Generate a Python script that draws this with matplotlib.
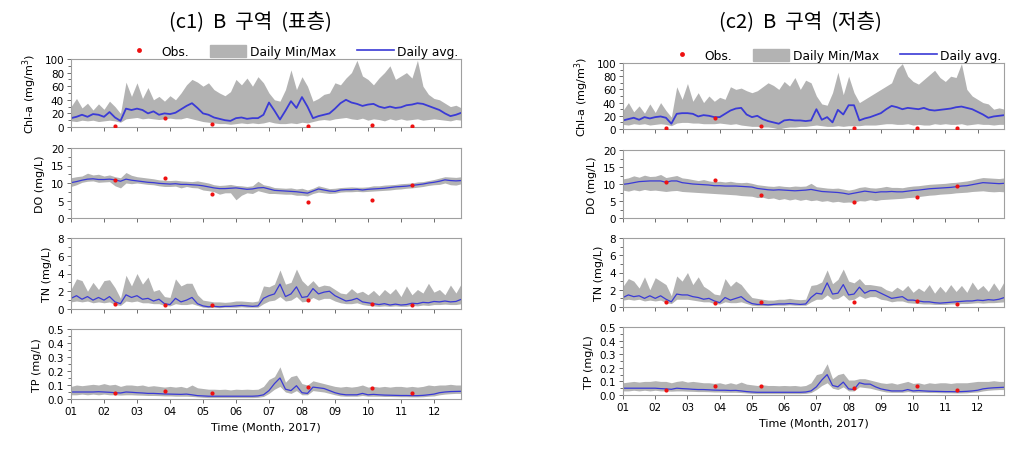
import numpy as np
import matplotlib.pyplot as plt
from matplotlib.patches import Patch
from matplotlib.lines import Line2D
from matplotlib.ticker import MultipleLocator

# time axis: every 5 days, in month units (01 = Jan 1)
t = 1 + np.arange(72) / 6
obs_t = [2.32, 3.85, 5.28, 8.17, 10.13, 11.35]
month_labels = ['01', '02', '03', '04', '05', '06', '07', '08', '09', '10', '11', '12']

# ---------------- (c1) surface ----------------
chl1_avg = [13, 15, 18, 15, 19, 18, 15, 22, 14, 9, 27, 25,
            27, 25, 20, 23, 18, 20, 19, 21, 26, 31, 35, 28,
            20, 18, 14, 12, 10, 9, 13, 14, 12, 13, 13, 18,
            36, 24, 11, 24, 38, 28, 44, 30, 13, 16, 18, 20,
            27, 35, 40, 36, 34, 31, 33, 34, 30, 28, 30, 28,
            29, 32, 33, 35, 34, 31, 28, 25, 20, 16, 18, 21]
chl1_max = [30, 42, 28, 35, 25, 34, 26, 38, 30, 20, 66, 45,
            65, 42, 58, 40, 45, 38, 46, 40, 50, 62, 70, 66,
            60, 65, 55, 50, 46, 52, 70, 62, 72, 60, 74, 65,
            50, 40, 38, 55, 84, 55, 74, 60, 38, 42, 48, 50,
            65, 62, 72, 80, 98, 75, 70, 62, 72, 80, 90, 70,
            75, 80, 72, 98, 60, 48, 42, 40, 35, 30, 32, 28]
chl1_min = [9, 8, 10, 9, 10, 8, 9, 10, 9, 7, 12, 13,
            14, 12, 13, 12, 11, 12, 13, 12, 12, 14, 12, 10,
            8, 7, 6, 5, 5, 4, 5, 6, 5, 6, 5, 6,
            8, 6, 5, 5, 6, 5, 7, 6, 8, 10, 11, 10,
            12, 13, 14, 12, 11, 13, 10, 12, 11, 9, 12, 10,
            12, 10, 11, 12, 10, 11, 12, 11, 10, 9, 11, 10]
chl1_obs = [2, 13, 5, 1.5, 2.5, 1.5]

do1_avg = [10.1, 10.4, 10.8, 11.1, 11.2, 11.0, 11.0, 11.1, 10.9, 10.5, 11.1, 10.8,
           10.6, 10.4, 10.2, 10.1, 9.9, 9.8, 9.7, 9.8, 9.6, 9.6, 9.5, 9.4,
           9.2, 8.9, 8.6, 8.4, 8.4, 8.5, 8.6, 8.4, 8.2, 8.3, 8.6, 8.7,
           8.3, 7.9, 7.8, 7.7, 7.6, 7.5, 7.3, 7.1, 7.7, 8.3, 8.0, 7.7,
           7.6, 8.0, 8.1, 8.1, 8.2, 8.0, 8.2, 8.3, 8.4, 8.5, 8.7, 8.9,
           9.0, 9.1, 9.3, 9.5, 9.7, 10.0, 10.2, 10.5, 10.9, 10.7, 10.6, 10.7]
do1_max = [11.5, 11.8, 12.0, 12.8, 12.3, 12.5, 12.0, 12.3, 11.8, 11.5, 13.0, 12.2,
           11.8, 11.6, 11.4, 11.2, 10.9, 10.8, 10.7, 10.8, 10.6, 10.5, 10.4, 10.6,
           10.3, 10.0, 9.5, 9.3, 9.4, 9.6, 9.3, 9.2, 9.0, 9.2, 10.5, 9.5,
           9.2, 8.7, 8.6, 8.5, 8.6, 8.3, 8.5, 8.0, 8.5, 9.2, 8.8, 8.4,
           8.5, 8.7, 8.8, 8.9, 8.8, 8.8, 8.9, 9.2, 9.2, 9.4, 9.5, 9.6,
           9.8, 9.9, 10.0, 10.3, 10.4, 10.7, 11.0, 11.4, 11.8, 11.7, 11.6, 11.8]
do1_min = [9.0, 9.5, 10.2, 10.5, 10.6, 10.2, 10.3, 10.4, 9.2, 8.6, 10.0, 9.8,
           10.0, 9.8, 9.6, 9.5, 9.2, 9.0, 9.0, 9.1, 8.6, 9.0, 8.7, 8.6,
           8.0, 7.8, 7.5, 6.8, 7.2, 7.2, 5.2, 6.5, 7.2, 7.0, 7.8, 7.4,
           7.0, 7.0, 6.9, 6.8, 6.8, 6.5, 6.5, 6.3, 7.0, 7.4, 7.2, 7.0,
           7.1, 7.4, 7.5, 7.5, 7.6, 7.5, 7.6, 7.7, 7.8, 7.9, 8.0, 8.2,
           8.3, 8.5, 8.6, 8.8, 9.0, 9.3, 9.5, 9.6, 10.0, 9.5, 9.4, 9.8]
do1_obs = [10.8, 11.5, 6.8, 4.7, 5.1, 9.3]

tn1_avg = [1.2, 1.5, 1.1, 1.4, 1.0, 1.3, 1.0, 1.4, 0.8, 0.6, 1.6, 1.3,
           1.5, 1.1, 1.2, 0.9, 1.1, 0.6, 0.5, 1.2, 0.8, 1.0, 1.3, 0.6,
           0.35, 0.25, 0.3, 0.25, 0.3, 0.3, 0.35, 0.4, 0.35, 0.3, 0.35, 1.2,
           1.5, 1.7, 2.8, 1.4, 1.7, 2.5, 1.3, 1.4, 2.3, 1.7, 1.9, 2.0,
           1.5, 1.2, 0.9, 1.0, 1.2, 0.8, 0.7, 0.6, 0.5, 0.6, 0.45, 0.55,
           0.45, 0.5, 0.65, 0.6, 0.75, 0.7, 0.85, 0.8, 0.9, 0.8, 0.85, 1.1]
tn1_max = [2.2, 3.4, 3.2, 2.0, 3.0, 2.2, 3.2, 3.3, 2.4, 1.2, 3.8, 2.6,
           4.0, 2.8, 3.6, 2.0, 2.2, 1.4, 1.3, 3.4, 2.6, 2.9, 2.9, 1.6,
           1.0, 0.9, 0.8, 0.8, 0.75, 0.8, 0.9, 0.9, 0.85, 0.8, 0.9, 2.6,
           2.5, 2.8, 4.4, 2.8, 3.0, 4.5, 3.2, 2.6, 3.2, 2.5, 2.7, 2.6,
           2.2, 1.8, 1.7, 2.3, 1.8, 2.0, 1.6, 2.1, 1.5, 2.2, 1.7, 2.3,
           1.4, 2.6, 1.6, 2.2, 1.8, 2.9, 1.9, 2.2, 1.6, 2.7, 1.8, 2.9]
tn1_min = [0.8, 0.9, 0.8, 0.9, 0.7, 0.8, 0.7, 0.8, 0.5, 0.4, 0.9, 0.8,
           0.9, 0.7, 0.7, 0.6, 0.6, 0.4, 0.35, 0.6, 0.5, 0.5, 0.6, 0.4,
           0.2, 0.15, 0.2, 0.15, 0.2, 0.2, 0.2, 0.25, 0.2, 0.2, 0.2, 0.6,
           0.9, 1.0, 1.4, 0.9, 1.0, 1.4, 0.8, 0.9, 1.3, 1.0, 1.2, 1.2,
           0.9, 0.7, 0.6, 0.6, 0.7, 0.5, 0.4, 0.35, 0.3, 0.35, 0.3, 0.35,
           0.3, 0.3, 0.4, 0.35, 0.45, 0.4, 0.5, 0.5, 0.55, 0.5, 0.5, 0.6]
tn1_obs = [0.56, 0.49, 0.49, 0.98, 0.56, 0.45]

tp1_avg = [0.05, 0.05, 0.05, 0.05, 0.05, 0.052, 0.05, 0.048, 0.045, 0.043, 0.05, 0.048,
           0.045, 0.043, 0.04, 0.04, 0.038, 0.036, 0.035, 0.034, 0.033, 0.035, 0.03, 0.024,
           0.022, 0.02, 0.02, 0.02, 0.02, 0.02, 0.02, 0.02, 0.02, 0.02, 0.022, 0.03,
           0.06, 0.11, 0.15, 0.07, 0.06, 0.095, 0.045, 0.04, 0.085, 0.08, 0.075, 0.06,
           0.045, 0.035, 0.03, 0.03, 0.03, 0.04, 0.03, 0.033, 0.03, 0.028, 0.027, 0.026,
           0.025, 0.025, 0.024, 0.024, 0.026, 0.03, 0.035, 0.045, 0.05, 0.053, 0.054, 0.055]
tp1_max = [0.09, 0.1, 0.095, 0.1, 0.105, 0.1, 0.11, 0.1, 0.105, 0.09, 0.1, 0.1,
           0.095, 0.1, 0.09, 0.095, 0.09, 0.085, 0.09, 0.085, 0.09, 0.08, 0.1, 0.08,
           0.075, 0.07, 0.07, 0.068, 0.07, 0.065, 0.07, 0.068, 0.07, 0.068, 0.07, 0.09,
           0.14, 0.16, 0.23, 0.12, 0.16, 0.17, 0.11, 0.1, 0.13, 0.12, 0.11, 0.1,
           0.09, 0.085, 0.09, 0.085, 0.09, 0.1, 0.085, 0.09, 0.085, 0.09, 0.085, 0.09,
           0.09, 0.085, 0.09, 0.085, 0.09, 0.1, 0.095, 0.1, 0.1, 0.105, 0.1, 0.1]
tp1_min = [0.03, 0.03, 0.035, 0.03, 0.035, 0.03, 0.035, 0.03, 0.03, 0.028, 0.03, 0.03,
           0.028, 0.027, 0.025, 0.025, 0.024, 0.022, 0.022, 0.02, 0.02, 0.02, 0.018, 0.015,
           0.012, 0.01, 0.01, 0.01, 0.01, 0.01, 0.01, 0.01, 0.01, 0.01, 0.012, 0.018,
           0.04, 0.07, 0.09, 0.05, 0.04, 0.06, 0.03, 0.03, 0.06, 0.055, 0.05, 0.04,
           0.03, 0.022, 0.02, 0.02, 0.02, 0.025, 0.02, 0.02, 0.02, 0.018, 0.018, 0.017,
           0.016, 0.016, 0.015, 0.015, 0.016, 0.02, 0.022, 0.03, 0.035, 0.038, 0.04, 0.04]
tp1_obs = [0.041, 0.055, 0.045, 0.084, 0.079, 0.041]

# ---------------- (c2) bottom ----------------
chl2_avg = [13, 15, 17, 14, 18, 16, 18, 19, 17, 8, 23, 24,
            24, 23, 19, 21, 20, 18, 18, 23, 28, 31, 32, 22,
            18, 20, 15, 12, 10, 8, 13, 14, 13, 13, 12, 13,
            30, 14, 18, 10, 29, 22, 36, 36, 13, 16, 18, 21,
            24, 30, 35, 33, 30, 32, 31, 30, 32, 29, 28, 29,
            30, 31, 33, 34, 32, 30, 26, 22, 17, 19, 20, 21]
chl2_max = [28, 40, 26, 35, 24, 38, 25, 40, 28, 18, 64, 45,
            69, 42, 55, 40, 50, 42, 48, 45, 64, 60, 62, 58,
            55, 58, 64, 70, 66, 60, 72, 65, 78, 60, 74, 70,
            50, 38, 36, 55, 86, 52, 80, 55, 40, 45, 50, 55,
            60, 65, 70, 91, 99, 80, 72, 68, 75, 82, 89, 78,
            72, 80, 78, 99, 60, 50, 45, 40, 38, 30, 32, 30]
chl2_min = [7, 6, 8, 7, 8, 6, 7, 8, 7, 5, 9, 10,
            10, 9, 9, 8, 8, 8, 9, 8, 7, 8, 6, 5,
            4, 4, 3, 3, 2, 0, 2, 3, 3, 4, 4, 5,
            6, 5, 4, 4, 5, 4, 5, 5, 5, 6, 6, 6,
            7, 8, 8, 7, 7, 8, 6, 7, 6, 6, 8, 7,
            8, 7, 7, 8, 6, 7, 8, 7, 7, 6, 7, 7]
chl2_obs = [2, 16, 4, 1, 2, 1]

do2_avg = [9.9, 10.1, 10.4, 10.7, 10.8, 10.9, 10.9, 10.9, 10.5, 10.9, 10.9, 10.4,
           10.2, 10.0, 9.9, 9.8, 9.7, 9.5, 9.5, 9.4, 9.4, 9.4, 9.3, 9.2,
           9.1, 8.7, 8.5, 8.3, 8.2, 8.3, 8.2, 8.1, 8.0, 8.1, 8.2, 8.4,
           8.1, 7.8, 7.7, 7.6, 7.5, 7.3, 7.0, 7.3, 7.6, 7.9, 7.7, 7.5,
           7.7, 7.7, 7.8, 7.7, 7.7, 7.9, 8.1, 8.2, 8.4, 8.6, 8.7, 8.8,
           8.9, 9.0, 9.2, 9.4, 9.5, 9.8, 10.1, 10.4, 10.3, 10.2, 10.1, 10.2]
do2_max = [11.5, 11.8, 12.4, 12.0, 12.6, 12.2, 12.3, 12.8, 11.9, 12.2, 12.5, 11.8,
           11.6, 11.3, 11.0, 11.3, 10.9, 10.7, 10.8, 10.6, 10.8, 10.5, 10.4, 10.5,
           10.2, 9.8, 9.6, 9.4, 9.3, 9.5, 9.3, 9.2, 9.4, 9.3, 9.4, 10.2,
           9.2, 9.0, 8.8, 8.7, 8.8, 8.5, 8.2, 8.5, 9.0, 9.2, 8.9, 8.8,
           9.0, 9.3, 9.0, 9.0, 8.9, 9.2, 9.4, 9.5, 9.7, 9.9, 10.0, 10.1,
           10.2, 10.4, 10.5, 10.7, 10.9, 11.2, 11.6, 11.9, 11.8, 11.7, 11.6, 11.8]
do2_min = [8.2, 7.9, 8.3, 8.0, 8.4, 8.1, 8.2, 8.0, 7.8, 8.0, 8.1, 7.8,
           7.7, 7.6, 7.5, 7.4, 7.3, 7.2, 7.1, 7.0, 6.9, 6.8, 6.6, 6.5,
           6.4, 6.0, 6.1, 5.7, 5.9, 5.4, 5.7, 5.3, 5.6, 5.2, 5.5, 5.1,
           5.3, 4.9, 5.1, 4.7, 4.9, 4.6, 4.7, 4.6, 5.1, 5.0, 5.4, 5.1,
           5.4, 5.5, 5.6, 5.7, 5.8, 6.0, 6.1, 6.3, 6.5, 6.7, 6.8, 7.0,
           7.1, 7.2, 7.4, 7.5, 7.6, 7.8, 7.9, 8.0, 7.8, 7.7, 7.8, 7.7]
do2_obs = [10.7, 11.3, 6.8, 4.7, 6.1, 9.3]

tn2_avg = [1.1, 1.4, 1.2, 1.3, 1.0, 1.3, 1.0, 1.3, 0.9, 0.6, 1.5, 1.4,
           1.4, 1.2, 1.1, 0.9, 1.0, 0.7, 0.5, 1.1, 0.8, 1.0, 1.2, 0.7,
           0.4, 0.3, 0.3, 0.25, 0.3, 0.35, 0.35, 0.4, 0.35, 0.3, 0.35, 1.1,
           1.6, 1.5, 2.8, 1.5, 1.6, 2.6, 1.4, 1.5, 2.3, 1.6, 1.9, 1.9,
           1.6, 1.3, 1.0, 1.1, 1.2, 0.8, 0.8, 0.7, 0.6, 0.6, 0.5, 0.45,
           0.5, 0.55, 0.6, 0.65, 0.7, 0.7, 0.8, 0.75, 0.85, 0.8, 0.9, 1.1]
tn2_max = [2.4, 3.3, 3.0, 2.2, 3.5, 2.0, 3.4, 3.0, 2.6, 1.3, 3.6, 3.0,
           4.0, 2.6, 3.5, 2.4, 2.0, 1.5, 1.4, 3.3, 2.4, 3.0, 2.6, 1.8,
           1.1, 1.0, 0.9, 0.8, 0.8, 0.9, 0.9, 1.0, 0.9, 0.85, 0.9, 2.5,
           2.6, 2.9, 4.3, 2.7, 3.2, 4.4, 3.0, 2.8, 3.3, 2.6, 2.6, 2.5,
           2.4, 2.0, 1.8, 2.3, 1.9, 2.5, 1.7, 2.2, 1.8, 2.6, 1.6, 2.4,
           1.7, 2.6, 1.8, 2.5, 1.7, 2.9, 2.0, 2.5, 1.8, 2.8, 1.9, 3.0]
tn2_min = [0.8, 0.9, 0.8, 0.9, 0.7, 0.8, 0.7, 0.8, 0.5, 0.4, 0.9, 0.9,
           0.9, 0.8, 0.7, 0.6, 0.6, 0.4, 0.35, 0.6, 0.5, 0.5, 0.6, 0.4,
           0.2, 0.15, 0.15, 0.15, 0.2, 0.2, 0.2, 0.25, 0.2, 0.2, 0.2, 0.6,
           0.9, 0.9, 1.4, 0.9, 1.0, 1.4, 0.8, 0.9, 1.3, 1.0, 1.2, 1.2,
           0.9, 0.8, 0.6, 0.7, 0.7, 0.5, 0.45, 0.4, 0.35, 0.35, 0.3, 0.3,
           0.3, 0.35, 0.35, 0.4, 0.4, 0.45, 0.5, 0.45, 0.5, 0.5, 0.55, 0.6]
tn2_obs = [0.54, 0.5, 0.54, 0.54, 0.69, 0.38]

tp2_avg = [0.05, 0.05, 0.05, 0.05, 0.05, 0.05, 0.05, 0.047, 0.045, 0.042, 0.05, 0.047,
           0.045, 0.042, 0.04, 0.04, 0.038, 0.036, 0.035, 0.035, 0.033, 0.034, 0.03, 0.025,
           0.022, 0.02, 0.02, 0.02, 0.02, 0.02, 0.02, 0.02, 0.02, 0.02, 0.022, 0.03,
           0.06, 0.11, 0.15, 0.07, 0.06, 0.095, 0.045, 0.04, 0.09, 0.08, 0.08, 0.06,
           0.045, 0.037, 0.03, 0.03, 0.03, 0.04, 0.03, 0.033, 0.03, 0.028, 0.027, 0.026,
           0.025, 0.025, 0.024, 0.025, 0.027, 0.03, 0.035, 0.045, 0.05, 0.053, 0.055, 0.057]
tp2_max = [0.09, 0.095, 0.1, 0.095, 0.1, 0.1, 0.105, 0.1, 0.1, 0.09, 0.1, 0.105,
           0.095, 0.1, 0.095, 0.09, 0.09, 0.085, 0.09, 0.08, 0.09, 0.08, 0.095, 0.08,
           0.075, 0.07, 0.075, 0.07, 0.07, 0.068, 0.07, 0.068, 0.07, 0.065, 0.07, 0.09,
           0.15, 0.16, 0.23, 0.12, 0.15, 0.16, 0.11, 0.11, 0.12, 0.12, 0.11, 0.1,
           0.09, 0.085, 0.09, 0.08, 0.09, 0.1, 0.085, 0.09, 0.08, 0.09, 0.085, 0.09,
           0.09, 0.085, 0.09, 0.09, 0.09, 0.095, 0.1, 0.1, 0.1, 0.105, 0.1, 0.1]
tp2_min = [0.03, 0.03, 0.035, 0.03, 0.035, 0.03, 0.035, 0.03, 0.03, 0.028, 0.03, 0.03,
           0.028, 0.027, 0.025, 0.025, 0.024, 0.022, 0.022, 0.02, 0.02, 0.02, 0.018, 0.015,
           0.012, 0.01, 0.01, 0.01, 0.01, 0.01, 0.01, 0.01, 0.01, 0.01, 0.012, 0.018,
           0.04, 0.07, 0.09, 0.05, 0.04, 0.06, 0.03, 0.03, 0.06, 0.055, 0.05, 0.04,
           0.03, 0.022, 0.02, 0.02, 0.02, 0.025, 0.02, 0.02, 0.02, 0.018, 0.018, 0.017,
           0.016, 0.016, 0.015, 0.015, 0.016, 0.02, 0.022, 0.03, 0.035, 0.038, 0.04, 0.04]
tp2_obs = [0.035, 0.064, 0.064, 0.05, 0.069, 0.037]

titles = ['(c1)  B  구역  (표층)', '(c2)  B  구역  (저층)']
ylabels = ['Chl-a (mg/m$^3$)', 'DO (mg/L)', 'TN (mg/L)', 'TP (mg/L)']
ylims = [(0, 100), (0, 20), (0, 8), (0, 0.5)]
ymajor = [20, 5, 2, 0.1]
yminor = [10, 2.5, 1, 0.05]

columns = [
    [(chl1_min, chl1_max, chl1_avg, chl1_obs), (do1_min, do1_max, do1_avg, do1_obs),
     (tn1_min, tn1_max, tn1_avg, tn1_obs), (tp1_min, tp1_max, tp1_avg, tp1_obs)],
    [(chl2_min, chl2_max, chl2_avg, chl2_obs), (do2_min, do2_max, do2_avg, do2_obs),
     (tn2_min, tn2_max, tn2_avg, tn2_obs), (tp2_min, tp2_max, tp2_avg, tp2_obs)],
]

W, H = 1014, 452
fig = plt.figure(figsize=(W / 100, H / 100), dpi=100)

# pixel boxes of the panels: (left, right) and (top, bottom) per row
col_x = [(71, 461), (623, 1004)]
row_y = [[(60, 128), (149, 219), (239, 310), (330, 400)],
         [(64, 130), (151, 219), (239, 308), (328, 396)]]
title_x = [250, 800]

band_col = '#b3b3b3'
line_col = '#3a3ad6'
spine_col = '#a0a0a0'

for c in range(2):
    x0, x1 = col_x[c]
    for r in range(4):
        y0, y1 = row_y[c][r]
        ax = fig.add_axes([x0 / W, 1 - y1 / H, (x1 - x0) / W, (y1 - y0) / H])
        lo, hi, avg, obs = columns[c][r]
        ax.fill_between(t, lo, hi, color=band_col, lw=0)
        ax.plot(t, avg, color=line_col, lw=1.3 if r == 0 else 0.9)
        ax.plot(obs_t, obs, 'o', color='#ee1111', ms=3, mec='none', zorder=5)
        ax.set_xlim(1, 12.82)
        ax.set_ylim(*ylims[r])
        ax.yaxis.set_major_locator(MultipleLocator(ymajor[r]))
        ax.yaxis.set_minor_locator(MultipleLocator(yminor[r]))
        if r == 3:
            ax.yaxis.set_major_formatter(plt.FormatStrFormatter('%.1f'))
        ax.set_xticks(range(1, 13))
        if r == 3:
            ax.set_xticklabels(month_labels)
            ax.set_xlabel('Time (Month, 2017)', fontsize=8)
        else:
            ax.set_xticklabels([])
        ax.set_ylabel(ylabels[r], fontsize=8, labelpad=4)
        for s in ax.spines.values():
            s.set_color(spine_col)
        ax.tick_params(axis='both', which='both', direction='out', color='#555555',
                       labelsize=7.5, length=3, width=0.6, pad=2)
        ax.tick_params(which='minor', length=2)
        ax.tick_params(axis='x', top=False)
        ax.tick_params(axis='y', right=False)
        if r == 0:
            handles = [Line2D([], [], ls='none', marker='o', color='#ee1111', ms=3.5, mec='none'),
                       Patch(color=band_col),
                       Line2D([], [], color=line_col, lw=1.2)]
            ax.legend(handles, ['Obs.', 'Daily Min/Max', 'Daily avg.'], loc='lower right',
                      bbox_to_anchor=(1.0, 0.98), ncol=3, frameon=False, fontsize=8.8,
                      handlelength=3.0, handleheight=1.1, columnspacing=1.7,
                      handletextpad=0.3, borderaxespad=0.1, borderpad=0.1)
    fig.text(title_x[c] / W, 1 - 23 / H, titles[c], ha='center', va='center',
             fontsize=14.5, family=['Noto Sans CJK KR', 'DejaVu Sans'])

fig.savefig('out.png', dpi=100)
